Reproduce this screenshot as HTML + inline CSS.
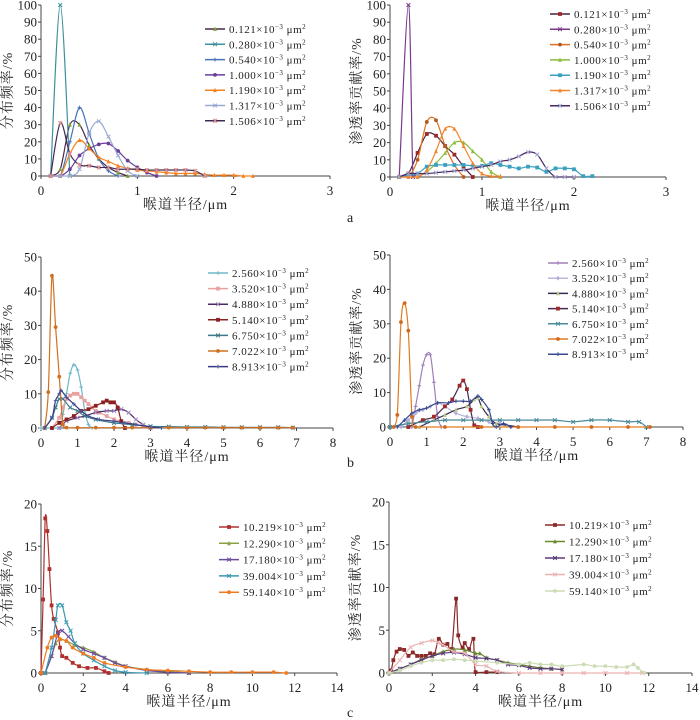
<!DOCTYPE html>
<html><head><meta charset="utf-8">
<style>
html,body{margin:0;padding:0;background:#fff;}
svg{display:block;}
text{font-family:"Liberation Serif","Noto Serif CJK SC",serif;fill:#222;}
.cn{font-family:"Liberation Serif","Noto Serif CJK SC","Noto Sans CJK SC",serif;}
</style></head>
<body>
<svg id="fig" width="700" height="720" viewBox="0 0 700 720" xmlns="http://www.w3.org/2000/svg"></svg>
<script>
// ---------- data: panel a (left: distribution frequency) ----------
const aL_labels = ["0.121","0.280","0.540","1.000","1.190","1.317","1.506"];
const aL_s1 = [[.1,0],[.2,4],[.3,30],[.4,30],[.5,18],[.6,10],[.7,5],[.8,2],[.9,0]];
const aL_s2 = [[.1,0],[.2,100],[.3,0]];
const aL_s3 = [[.1,0],[.2,0],[.3,20],[.4,40],[.5,25],[.6,10],[.7,3],[.8,0]];
const aL_s4 = [[.1,0],[.2,0],[.3,4],[.4,12],[.5,16],[.6,18.5],[.7,19],[.8,14.6],[.9,9],[1.0,5],[1.1,2],[1.2,0]];
const aL_s5 = [[.1,0],[.2,0],[.3,13],[.4,21],[.5,16],[.6,11],[.7,8.5],[.8,6],[.9,4.5],[1.0,3.5],[1.1,3],[1.2,2.5],[1.3,2],[1.4,1.5],[1.5,1.5],[1.6,1.5],[1.7,1],[1.8,0.5],[1.9,0.5],[2.0,0.5],[2.1,0],[2.2,0]];
const aL_s6 = [[.1,0],[.2,0],[.3,0],[.4,4],[.5,25],[.6,32],[.7,23],[.8,12],[.9,3],[1.0,0]];
const aL_s7 = [[.1,0],[.2,31],[.3,13],[.4,6.5],[.5,6],[.6,5],[.7,5],[.8,4],[.9,4],[1.0,4],[1.1,3.5],[1.2,3.5],[1.3,3.5],[1.4,3.5],[1.5,3.5],[1.6,3],[1.7,0]];
// ---------- panel a (right: permeability contribution) ----------
const aR_s1 = [[.1,0],[.2,2],[.3,14],[.4,25],[.5,24],[.6,18],[.7,13],[.8,6],[.9,0]];
const aR_s2 = [[.1,0],[.2,100],[.25,0],[.3,2]];
const aR_s3 = [[.1,0],[.2,0],[.3,10],[.4,32],[.5,33],[.6,18],[.7,7],[.8,0]];
const aR_s4 = [[.3,0],[.4,3],[.5,8],[.6,14],[.7,20],[.8,20],[.9,15],[1.0,10],[1.1,3],[1.2,0]];
const aR_s5 = [[.1,0],[.2,1],[.3,2],[.4,6],[.5,7],[.6,7],[.7,7],[.8,7],[.9,6.5],[1.0,6.5],[1.1,8],[1.2,7],[1.3,6],[1.4,5],[1.5,6],[1.6,5.5],[1.7,3],[1.8,5],[1.9,5],[2.0,4.5],[2.1,0.5],[2.2,0.5]];
const aR_s6 = [[.1,0],[.2,0],[.3,0],[.4,4],[.5,15],[.6,28],[.7,28],[.8,18],[.9,8],[1.0,2],[1.1,0.5],[1.2,0.5]];
const aR_s7 = [[.1,0],[.2,2],[.3,2],[.4,2],[.5,2.5],[.6,3],[.7,3.5],[.8,4],[.9,5],[1.0,6],[1.1,7],[1.2,9],[1.3,10],[1.4,12],[1.5,14.5],[1.6,13],[1.7,5],[1.8,0],[1.9,0],[2.0,0]];
// ---------- panel b ----------
const b_labels = ["2.560","3.520","4.880","5.140","6.750","7.022","8.913"];
const bL_s1 = [[0,0],[.5,0],[.6,4],[.7,10],[.8,16],[.9,18.5],[1.0,17],[1.1,12],[1.2,5],[1.3,1],[1.4,0]];
const bL_s2 = [[.3,0],[.5,3],[.6,6],[.7,8.5],[.8,9.5],[.9,10],[1.0,10],[1.1,9],[1.2,8],[1.3,7],[1.4,6],[1.5,5],[1.6,4.5],[1.8,3.5],[2.0,2.5],[2.2,2],[2.4,1.5],[2.6,1],[2.8,0.5],[3.0,0]];
const bL_s3 = [[.5,0],[.7,2],[1.0,3],[1.2,3.5],[1.5,4.5],[1.8,5],[2.0,5],[2.2,5.5],[2.4,4.5],[2.6,2.5],[2.8,1],[3.0,0]];
const bL_s4 = [[.3,0],[.5,1.5],[.7,2.5],[.9,3.5],[1.1,5],[1.3,5.5],[1.5,6.5],[1.7,7.5],[1.8,8],[1.9,7.5],[2.0,7.5],[2.1,6],[2.2,2],[2.3,0]];
const bL_s5 = [[.1,0],[.3,3],[.4,6],[.5,8.5],[.6,8.5],[.8,6],[1.0,5],[1.2,3.5],[1.5,2.5],[2,1.5],[2.5,1],[3,0.5],[3.5,0.4],[4,0.3],[4.5,0.3],[5,0.2],[5.5,0.2],[6,0.2],[6.5,0.2],[6.9,0.1]];
const bL_s6 = [[.1,0],[.2,10.5],[.3,44.5],[.4,29.5],[.5,15],[.6,1],[.7,0.1],[1,0.1],[1.5,0.1],[2,0.1],[2.5,0.1],[3,0.1],[3.5,0.1],[4,0.1],[4.5,0.1],[5,0.1],[5.5,0.1],[6,0.1],[6.5,0.1],[6.9,0.1]];
const bL_s7 = [[.1,0],[.3,3],[.4,8],[.5,10],[.55,11],[.7,9],[.9,7],[1.1,5],[1.3,3.5],[1.6,2.5],[2,2],[2.3,1.5],[2.6,1],[3,0.3],[3.3,0]];
const bR_s1 = [[.6,0],[.7,6],[.8,12],[.9,18],[1.0,21],[1.1,21],[1.2,13],[1.3,3],[1.4,0]];
const bR_s2 = [[.3,0],[.5,2],[.7,4],[.9,5],[1.1,6],[1.3,7],[1.5,6],[1.8,4],[2.1,3],[2.4,2.5],[2.7,1.5],[3.0,1],[3.3,0]];
const bR_s3 = [[.8,0],[1.2,2],[1.5,3.5],[1.8,5],[2.1,6],[2.3,8],[2.4,8.5],[2.5,6],[2.7,3],[2.9,1],[3.2,0.5],[3.5,0]];
const bR_s4 = [[.5,0],[.9,2],[1.2,3],[1.5,6],[1.7,8],[1.9,12],[2.0,13.5],[2.1,11],[2.2,5],[2.3,0.5],[2.4,0]];
const bR_s5 = [[0,0],[.5,1],[1,1.5],[1.5,2],[2,2],[2.5,2],[3,2],[3.5,2],[4,2],[4.5,2],[5,1.5],[5.5,2],[6,2],[6.5,1.5],[6.8,1.5],[7,0]];
const bR_s6 = [[.1,0],[.2,3.5],[.3,30.5],[.4,36],[.5,28],[.6,3],[.7,0],[1.5,0],[2.5,0],[3.5,0],[4.5,0],[5.5,0],[6.5,0],[7.1,0]];
const bR_s7 = [[.2,0],[.4,2],[.6,4],[.8,5],[1.0,5.5],[1.3,7],[1.6,7],[1.8,7.5],[2.0,7.5],[2.2,7.5],[2.4,9],[2.5,8],[2.7,5],[2.8,1],[2.9,0],[3.1,1],[3.3,0]];
// ---------- panel c ----------
const c_labels = ["10.219","12.290","17.180","39.004","59.140"];
const cL_s1 = [[0,0],[.1,8.7],[.2,18.3],[.3,16.8],[.4,12.3],[.5,8],[.6,6.4],[.8,4.8],[.9,3],[1.0,2],[1.2,1.8],[1.5,1.2],[1.8,0.8],[2.2,0.6],[2.6,0.6],[3.0,0.2],[3.2,0]];
const cL_s2 = [[.2,0],[.5,2],[.7,3.5],[.9,4],[1.2,3.8],[1.6,3.3],[2,3],[2.5,2.5],[3,1.8],[3.5,1.3],[4,0.8],[5,0.4],[6,0.2],[7,0]];
const cL_s3 = [[.2,0],[.5,2],[.8,4.7],[1.0,5],[1.3,4.3],[1.6,3.5],[2,2.8],[2.5,2.3],[3,1.8],[3.5,1.2],[4,0.8],[5,0.3],[6,0.1],[7,0]];
const cL_s4 = [[.2,0],[.5,3],[.7,6.3],[.8,8],[1.0,8],[1.2,6],[1.4,5],[1.6,3.5],[2,2.3],[2.5,1.5],[3,0.8],[3.5,0.3],[4,0.1],[5,0]];
const cL_s5 = [[0,0],[.3,3],[.5,4.2],[.7,4.4],[.9,4],[1.2,3.8],[1.5,3],[2,2.3],[2.5,1.8],[3,1.2],[4,0.7],[5,0.4],[6,0.3],[7,0.2],[8,0.1],[9,0.1],[10,0.1],[11,0.1],[11.6,0]];
const cR_s1 = [[0,0],[.1,0.3],[.2,1.5],[.35,2.5],[.5,2.8],[.7,2.7],[.9,2],[1.1,2.4],[1.3,2],[1.5,2],[1.7,2],[1.9,2.3],[2.1,2.2],[2.3,4],[2.5,3.3],[2.7,3.4],[2.9,2.8],[3.1,8.7],[3.2,4.4],[3.4,3],[3.5,3.5],[3.7,2.8],[3.9,4],[4.0,0.1],[4.5,0.1],[5.0,0.1]];
const cR_s2 = [[0,0],[.5,0.5],[1,1],[1.5,1.6],[2,2],[2.5,2.5],[3,2.8],[3.5,2.7],[4,2.3],[4.2,2.3],[4.5,1.8],[5,1.5],[5.5,1.2],[6,1],[6.5,0.8],[7,0.6],[7.5,0.5],[8,0.4]];
const cR_s3 = [[0,0],[.5,0.5],[1,1],[1.5,1.5],[2,2],[2.5,2.3],[3,2.4],[3.5,2.2],[4,1.8],[4.5,1.7],[5,1.5],[5.5,1],[6,0.9],[6.5,0.6],[7,0.5],[7.5,0.5],[8,0.4]];
const cR_s4 = [[0,0],[.5,1.5],[1,3],[1.5,3.5],[2,3.8],[2.3,3.5],[2.5,3.3],[3,2.5],[3.5,2.3],[4,1],[4.5,0.8],[5,0.2],[6,0],[7,0],[8,0],[9,0],[10,0],[11,0],[11.7,0]];
const cR_s5 = [[0,0],[.5,0.3],[1,0.8],[1.5,1.2],[2,1.5],[2.5,1.5],[3,1.6],[3.5,1.5],[4,1.4],[5,1.2],[6,1],[6.5,1.2],[7,1],[7.5,1],[8,0.8],[9,1],[9.5,0.8],[10,0.8],[10.5,0.7],[11,0.7],[11.3,1],[11.5,0.6],[11.8,0]];

// ---------- rendering ----------
const NS = "http://www.w3.org/2000/svg";
const svg = document.getElementById('fig');
function mk(tag, attrs, parent){ const e=document.createElementNS(NS,tag); for(const k in attrs) e.setAttribute(k,attrs[k]); (parent||svg).appendChild(e); return e; }

function smoothPath(pts, ymaxPx){
  if(pts.length<2) return "";
  let d = "M"+pts[0][0].toFixed(1)+","+pts[0][1].toFixed(1);
  for(let i=0;i<pts.length-1;i++){
    const p0=pts[i-1]||pts[i], p1=pts[i], p2=pts[i+1], p3=pts[i+2]||p2;
    const t=0.16;
    const c1x=p1[0]+(p2[0]-p0[0])*t, c1y=Math.min(ymaxPx,p1[1]+(p2[1]-p0[1])*t);
    const c2x=p2[0]-(p3[0]-p1[0])*t, c2y=Math.min(ymaxPx,p2[1]-(p3[1]-p1[1])*t);
    d += " C"+c1x.toFixed(1)+","+c1y.toFixed(1)+" "+c2x.toFixed(1)+","+c2y.toFixed(1)+" "+p2[0].toFixed(1)+","+p2[1].toFixed(1);
  }
  return d;
}
function marker(g, type, x, y, col){
  const s=1.9;
  if(type==='sq') return mk('rect',{x:x-s,y:y-s,width:2*s,height:2*s,fill:col},g);
  if(type==='tri') return mk('polygon',{points:`${x},${y-s-0.5} ${x-s},${y+s} ${x+s},${y+s}`,fill:col},g);
  if(type==='ci') return mk('circle',{cx:x,cy:y,r:s,fill:col},g);
  if(type==='di') return mk('polygon',{points:`${x},${y-s-0.5} ${x+s},${y} ${x},${y+s+0.5} ${x-s},${y}`,fill:col},g);
  if(type==='x') return mk('path',{d:`M${x-s},${y-s}L${x+s},${y+s}M${x-s},${y+s}L${x+s},${y-s}`,stroke:col,'stroke-width':1},g);
  if(type==='plus') return mk('path',{d:`M${x-s},${y}L${x+s},${y}M${x},${y-s}L${x},${y+s}`,stroke:col,'stroke-width':1},g);
  if(type==='star') return mk('path',{d:`M${x-s},${y-s}L${x+s},${y+s}M${x-s},${y+s}L${x+s},${y-s}M${x},${y-s}L${x},${y+s}`,stroke:col,'stroke-width':1},g);
}
function legendText(g, x, y, num){
  const t = mk('text',{x:x,y:y,'font-size':11,'letter-spacing':'0.5'},g);
  t.appendChild(document.createTextNode(num));
  const m = mk('tspan',{'class':'cn','font-size':11},t); m.textContent="×";
  const a = mk('tspan',{},t); a.textContent="10";
  const s1 = mk('tspan',{'font-size':7,dy:-4},t); s1.textContent="−3";
  const s2 = mk('tspan',{'font-size':11,dy:4},t); s2.textContent=" μm";
  const s3 = mk('tspan',{'font-size':7,dy:-4},t); s3.textContent="2";
  return t;
}

function panel(cfg){
  const g = mk('g',{});
  
  
  const X = v => cfg.xl + (v/cfg.xmax)*(cfg.xr-cfg.xl);
  const Y = v => cfg.yb - (v/cfg.ymax)*(cfg.yb-cfg.yt);
  const ax = mk('path',{d:`M${cfg.xl},${cfg.yt}L${cfg.xl},${cfg.yb}L${cfg.xr},${cfg.yb}`,stroke:'#444','stroke-width':1,fill:'none'},g);
  
  
  for(let v=0; v<=cfg.ymax+1e-9; v+=cfg.ystep){
    mk('line',{x1:cfg.xl-3,x2:cfg.xl,y1:Y(v),y2:Y(v),stroke:'#444'},g);
    const t = mk('text',{x:cfg.xl-4,y:Y(v)+4.5,'font-size':13,'text-anchor':'end'},g);
    t.textContent = v;
    
    
  }
  for(let v=0; v<=cfg.xmax+1e-9; v+=cfg.xstep){
    mk('line',{x1:X(v),x2:X(v),y1:cfg.yb,y2:cfg.yb+3,stroke:'#444'},g);
    const t = mk('text',{x:X(v),y:cfg.yb+19,'font-size':13,'text-anchor':'middle'},g);
    t.textContent = v;
    
    
  }
  const xt = mk('text',{x:(cfg.xl+cfg.xr)/2,y:cfg.yb+33,'font-size':14,'text-anchor':'middle','class':'cn','letter-spacing':'1'},g);
  xt.textContent = "喉道半径/μm";
  
  
  const cy=(cfg.yt+cfg.yb)/2, cx=cfg.xl-29;
  const yt = mk('text',{x:cx,y:cy,'font-size':14,'text-anchor':'middle','class':'cn','letter-spacing':'1',transform:`rotate(-90 ${cx} ${cy})`},g);
  yt.textContent = cfg.ytitle;
  
  

  cfg.series.forEach((s,i)=>{
    const sg = mk('g',{},g);
    
    
    const pts = s.data.map(p=>[X(p[0]),Y(p[1])]);
    mk('path',{d:smoothPath(pts,cfg.yb),stroke:s.line,'stroke-width':1.2,fill:'none'},sg);
    pts.forEach(p=>marker(sg,s.mk,p[0],p[1],s.mc));
    // legend
    const ly = cfg.legY + i*cfg.legDy;
    const lg = mk('g',{},g);
    
    
    mk('line',{x1:cfg.legX,x2:cfg.legX+20,y1:ly,y2:ly,stroke:s.line,'stroke-width':1.5},lg);
    marker(lg,s.mk,cfg.legX+10,ly,s.mc);
    legendText(lg,cfg.legX+24,ly+4,cfg.labels[i]);
  });
}

const T1="分布频率/%", T2="渗透率贡献率/%";
panel({name:'chart-a-left',xl:41,xr:330,yb:176,yt:5,xmax:3,xstep:1,ymax:100,ystep:10,ytitle:T1,labels:aL_labels,legX:205,legY:29,legDy:15.3,
  series:[
    {data:aL_s1,line:'#4a2a48',mc:'#7aa030',mk:'tri'},
    {data:aL_s2,line:'#3f8f9e',mc:'#3f8f9e',mk:'x'},
    {data:aL_s3,line:'#4a72b8',mc:'#4a72b8',mk:'plus'},
    {data:aL_s4,line:'#6a3d9a',mc:'#6a3d9a',mk:'ci'},
    {data:aL_s5,line:'#f5821f',mc:'#f5821f',mk:'tri'},
    {data:aL_s6,line:'#9aaad4',mc:'#9aaad4',mk:'x'},
    {data:aL_s7,line:'#3e2a52',mc:'#e09090',mk:'star'}]});
panel({name:'chart-a-right',xl:390,xr:666,yb:177,yt:5,xmax:3,xstep:1,ymax:100,ystep:10,ytitle:T2,labels:aL_labels,legX:550,legY:14,legDy:15.3,
  series:[
    {data:aR_s1,line:'#4a2040',mc:'#9a2a2a',mk:'sq'},
    {data:aR_s2,line:'#7a3a8a',mc:'#7a3a8a',mk:'x'},
    {data:aR_s3,line:'#e07020',mc:'#b05a20',mk:'ci'},
    {data:aR_s4,line:'#8cbb3c',mc:'#8cbb3c',mk:'tri'},
    {data:aR_s5,line:'#3aa0c0',mc:'#3aa0c0',mk:'sq'},
    {data:aR_s6,line:'#f5852a',mc:'#f5852a',mk:'tri'},
    {data:aR_s7,line:'#4a2a60',mc:'#a0a8d0',mk:'x'}]});
panel({name:'chart-b-left',xl:41,xr:333,yb:428,yt:257,xmax:8,xstep:1,ymax:50,ystep:10,ytitle:T1,labels:b_labels,legX:208,legY:273,legDy:15.6,
  series:[
    {data:bL_s1,line:'#6fb8c8',mc:'#6fb8c8',mk:'plus'},
    {data:bL_s2,line:'#e8a0a0',mc:'#e8a0a0',mk:'sq'},
    {data:bL_s3,line:'#4a2a60',mc:'#a080c0',mk:'x'},
    {data:bL_s4,line:'#8b2020',mc:'#8b2020',mk:'sq'},
    {data:bL_s5,line:'#3a7a8a',mc:'#3a7a8a',mk:'x'},
    {data:bL_s6,line:'#d07020',mc:'#d07020',mk:'ci'},
    {data:bL_s7,line:'#3a3a80',mc:'#4a5aa0',mk:'plus'}]});
panel({name:'chart-b-right',xl:390,xr:683,yb:427,yt:255,xmax:8,xstep:1,ymax:50,ystep:10,ytitle:T2,labels:b_labels,legX:548,legY:263,legDy:15.2,
  series:[
    {data:bR_s1,line:'#a080b8',mc:'#a080b8',mk:'plus'},
    {data:bR_s2,line:'#b8b8dc',mc:'#b0b0d8',mk:'di'},
    {data:bR_s3,line:'#3a2a50',mc:'#b8c880',mk:'tri'},
    {data:bR_s4,line:'#4a2a50',mc:'#a02828',mk:'sq'},
    {data:bR_s5,line:'#4a8a9a',mc:'#4a8a9a',mk:'x'},
    {data:bR_s6,line:'#e07a20',mc:'#d06a20',mk:'ci'},
    {data:bR_s7,line:'#3a4a90',mc:'#3a4a90',mk:'plus'}]});
panel({name:'chart-c-left',xl:41,xr:337,yb:673,yt:504,xmax:14,xstep:2,ymax:20,ystep:5,ytitle:T1,labels:c_labels,legX:219,legY:527,legDy:16.3,
  series:[
    {data:cL_s1,line:'#b03030',mc:'#b03030',mk:'sq'},
    {data:cL_s2,line:'#8aa040',mc:'#8aa040',mk:'tri'},
    {data:cL_s3,line:'#6a4a9a',mc:'#6a4a9a',mk:'x'},
    {data:cL_s4,line:'#3a98b0',mc:'#3a98b0',mk:'x'},
    {data:cL_s5,line:'#f07a20',mc:'#f07a20',mk:'ci'}]});
panel({name:'chart-c-right',xl:389,xr:692,yb:673,yt:502,xmax:14,xstep:2,ymax:20,ystep:5,ytitle:T2,labels:c_labels,legX:545,legY:525,legDy:16.5,
  series:[
    {data:cR_s1,line:'#8b2828',mc:'#8b2828',mk:'sq'},
    {data:cR_s2,line:'#6a8a30',mc:'#6a8a30',mk:'tri'},
    {data:cR_s3,line:'#5a3a7a',mc:'#5a3a7a',mk:'x'},
    {data:cR_s4,line:'#eab4b4',mc:'#eab4b4',mk:'x'},
    {data:cR_s5,line:'#cddcb4',mc:'#cddcb4',mk:'ci'}]});

[['a',222],['b',467],['c',717]].forEach(([l,y])=>{
  const t = mk('text',{x:347,y:y,'font-size':14},svg);
  t.textContent=l;
  
  
});
</script>
</body></html>
